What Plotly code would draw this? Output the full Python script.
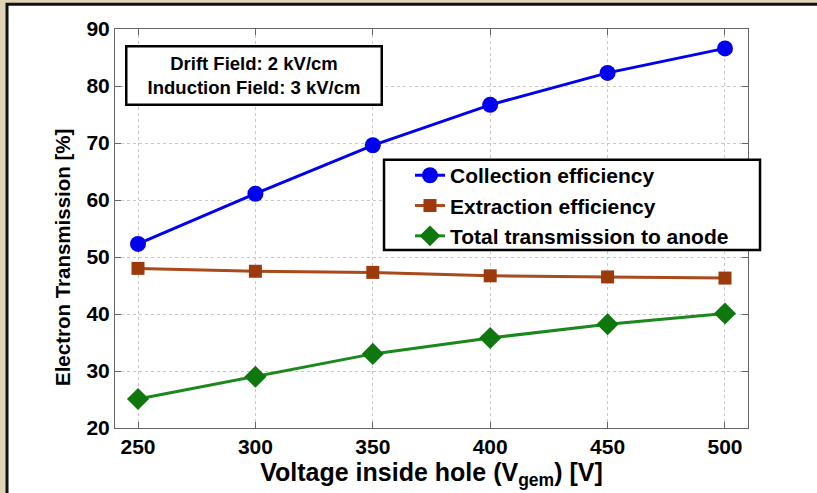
import plotly.graph_objects as go

# Gap voltage across the hole (V)
voltage = [250, 300, 350, 400, 450, 500]

# Transmission figures (%)
collection_eff = [52.3, 61.1, 69.6, 76.7, 82.3, 86.6]
extraction_eff = [48.0, 47.5, 47.3, 46.7, 46.5, 46.3]
total_transmission = [25.1, 29.0, 33.0, 35.8, 38.2, 40.1]

x_ticks = [250, 300, 350, 400, 450, 500]
y_ticks = [20, 30, 40, 50, 60, 70, 80, 90]

FONT = "Liberation Sans, Arial, sans-serif"

fig = go.Figure()

fig.add_trace(go.Scatter(
    x=voltage, y=collection_eff, mode="lines+markers",
    name="Collection efficiency",
    line=dict(color="#0000f0", width=3),
    marker=dict(symbol="circle", size=16, color="#0000f0"),
))
fig.add_trace(go.Scatter(
    x=voltage, y=extraction_eff, mode="lines+markers",
    name="Extraction efficiency",
    line=dict(color="#a84a1c", width=3),
    marker=dict(symbol="square", size=13, color="#9c3a0c"),
))
fig.add_trace(go.Scatter(
    x=voltage, y=total_transmission, mode="lines+markers",
    name="Total transmission to anode",
    line=dict(color="#1a881a", width=3),
    marker=dict(symbol="diamond", size=17, color="#0e780e"),
))

# white framed panel sitting on the beige page
fig.add_shape(
    type="rect", xref="paper", yref="paper",
    x0=-0.1706, x1=1.6, y0=-0.6, y1=1.062,
    fillcolor="white", line=dict(color="#111111", width=3),
    layer="below",
)

# box behind the legend entries
fig.add_shape(
    type="rect", xref="paper", yref="paper",
    x0=0.425, x1=1.019, y0=0.446, y1=0.672,
    fillcolor="white", line=dict(color="black", width=2.5),
    layer="above",
)

# field settings box
fig.add_annotation(
    xref="paper", yref="paper", x=0.2196, y=0.96,
    xanchor="center", yanchor="top", showarrow=False,
    text="<b>Drift Field: 2 kV/cm<br>Induction Field: 3 kV/cm</b>",
    font=dict(family=FONT, size=18.5, color="black"),
    bordercolor="black", borderwidth=2.5, borderpad=4,
    bgcolor="white", width=245, height=48, align="center", valign="middle",
)

# vertical axis title, sitting a little below the axis midpoint
fig.add_annotation(
    xref="paper", yref="paper", x=-0.0837, y=0.426,
    xanchor="center", yanchor="middle", showarrow=False, textangle=-90,
    text="<b>Electron Transmission [%]</b>",
    font=dict(family=FONT, size=20.5, color="black"),
)

axis_common = dict(
    showline=True, linecolor="#666666", linewidth=1, mirror="ticks",
    ticks="inside", ticklen=6, tickcolor="#666666",
    showgrid=True, gridcolor="#c8c8c8", griddash="dot", gridwidth=1,
    zeroline=False,
    tickfont=dict(family=FONT, size=21, color="black", weight="bold"),
)

fig.update_xaxes(
    range=[240.2, 509.8], tickvals=x_ticks, ticktext=[str(v) for v in x_ticks],
    title=dict(text="<b>Voltage inside hole (V<sub>gem</sub>) [V]</b>",
               font=dict(family=FONT, size=25, color="black"), standoff=3),
    **axis_common,
)
fig.update_yaxes(
    range=[20, 90], tickvals=y_ticks, ticktext=[str(v) for v in y_ticks],
    **axis_common,
)

fig.update_layout(
    width=817, height=493,
    margin=dict(l=115, r=69, t=29, b=65),
    paper_bgcolor="#dfd4b6",
    plot_bgcolor="white",
    showlegend=True,
    legend=dict(
        x=0.466, y=0.684, xanchor="left", yanchor="top",
        bgcolor="rgba(0,0,0,0)", borderwidth=0,
        font=dict(family=FONT, size=21, color="black", weight="bold"),
        tracegroupgap=0, itemwidth=30,
    ),
)

fig.write_html("out.html")
